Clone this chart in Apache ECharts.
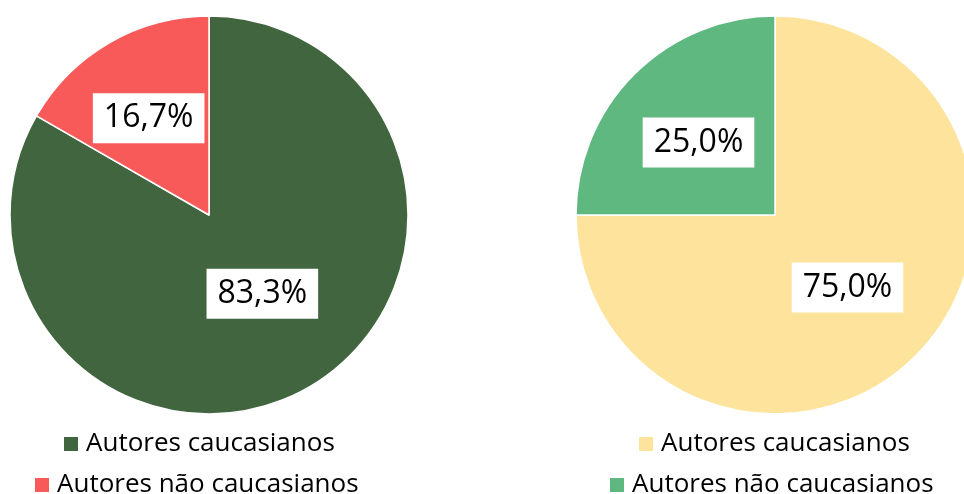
<!DOCTYPE html>
<html>
<head>
<meta charset="utf-8">
<script src="https://cdn.jsdelivr.net/npm/echarts@6/dist/echarts.min.js"></script>
<style>
html,body{margin:0;padding:0;background:#fff;}
#chart{width:964px;height:494px;}
</style>
</head>
<body>
<div id="chart"></div>
<script>
const categories = ['Autores caucasianos', 'Autores não caucasianos'];
const leftValues = [83.3, 16.7];
const rightValues = [75.0, 25.0];
const leftColors = ['#41663f', '#f85a5a'];
const rightColors = ['#fde39c', '#5fb87f'];
// small label nudges (px) per slice, to mimic the original label placement
const leftLabelShift = [[2, -10], [-9, -8]];
const rightLabelShift = [[0, 0], [-4, 0]];

const FONT = '"Open Sans", sans-serif';

function makeData(values, colors) {
  return categories.map((c, i) => ({ name: c, value: values[i], itemStyle: { color: colors[i] } }));
}

const labelStyle = {
  show: true,
  position: 'inside',
  formatter: p => p.value.toFixed(1).replace('.', ',') + '%',
  color: '#000',
  fontFamily: FONT,
  fontSize: 32,
  lineHeight: 34,
  backgroundColor: '#fff',
  padding: [8, 11, 8, 11]
};

function pie(center, values, colors, shifts) {
  return {
    type: 'pie',
    center: center,
    radius: 199,
    startAngle: 90,
    clockwise: true,
    silent: true,
    avoidLabelOverlap: false,
    itemStyle: { borderColor: '#fff', borderWidth: 1.5 },
    label: labelStyle,
    labelLine: { show: false },
    labelLayout: p => ({ dx: shifts[p.dataIndex][0], dy: shifts[p.dataIndex][1] }),
    data: makeData(values, colors)
  };
}

function legendItem(left, top, idx, colors) {
  return {
    left: left,
    top: top,
    padding: 0,
    icon: 'rect',
    itemWidth: 16,
    itemHeight: 16,
    selectedMode: false,
    textStyle: { fontFamily: FONT, fontSize: 26, lineHeight: 26, color: '#000', padding: [0, 0, 0, 2] },
    data: [{ name: categories[idx], itemStyle: { color: colors[idx] } }]
  };
}

const chart = echarts.init(document.getElementById('chart'));
chart.setOption({
  animation: false,
  legend: [
    legendItem(62, 431, 0, leftColors),
    legendItem(33, 472, 1, leftColors),
    legendItem(637, 431, 0, rightColors),
    legendItem(608, 472, 1, rightColors)
  ],
  series: [
    pie([209, 215], leftValues, leftColors, leftLabelShift),
    pie([775, 215], rightValues, rightColors, rightLabelShift)
  ]
});
</script>
</body>
</html>
